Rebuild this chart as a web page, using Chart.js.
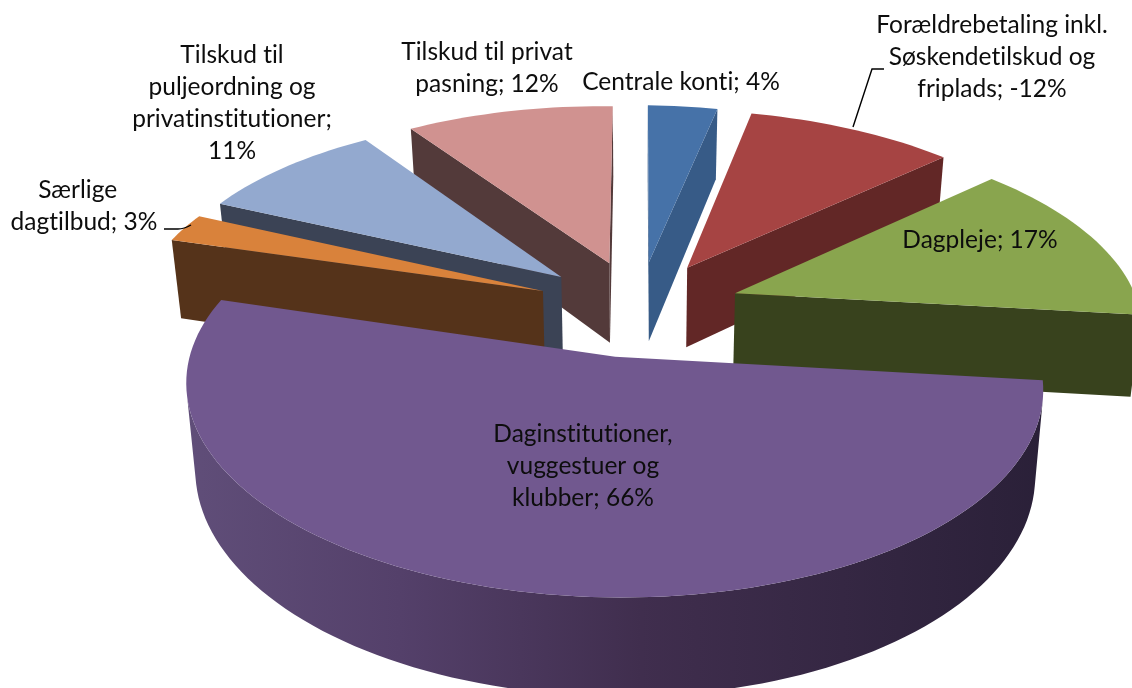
<!DOCTYPE html>
<html>
<head>
<meta charset="utf-8">
<title>Pie</title>
<style>
	html, body { margin: 0; padding: 0; background: #fff; overflow: hidden; }
	canvas { display: block; }
</style>
<script src="https://cdn.jsdelivr.net/npm/chart.js@4/dist/chart.umd.js"></script>
</head>
<body>
<canvas id="chart" width="1132" height="688"></canvas>
<script>

	// Values.
	const categories = [
		"Centrale konti",
		"Forældrebetaling inkl.\nSøskendetilskud og\nfriplads",
		"Dagpleje",
		"Daginstitutioner,\nvuggestuer og\nklubber",
		"Særlige  \ndagtilbud",
		"Tilskud til\npuljeordning og\nprivatinstitutioner",
		"Tilskud til privat\npasning"
	];
	const shares = [ 4, -12, 17, 66, 3, 11, 12 ];
	const faceColors = [ "#4672a8", "#a64443", "#89a54e", "#71588f", "#d9823b", "#93a9cf", "#d09290" ];
	const wallColors = [ "#375b87", "#622726", "#38421d", "#4a3a60", "#55331a", "#3b4355", "#533a3a" ];

	// Where each data label goes: centre x, first baseline y.
	const labelSpots = [ [ 681, 90 ], [ 992, 33 ], [ 980, 248 ], [ 583, 442 ], [ 84, 198 ], [ 232, 63 ], [ 487, 60 ] ];
	const labelColor = "#0d0d0d";
	const lineGap = 32;

	// Camera. Pie radius is 1, explosion in the same unit.
	const view = {
		cx: 639, cy: 308, a: 412, b: 196, p: 0.139,
		explodeX: 0.25, explodeY: 0.245,
		depth: 82, pinch: 0.98, tilt: 0.012, frontSlip: -0.012,
		backRim: [ 0.985, 0.965 ], frontRim: [ 0.995, 0.985 ]
	};

	// Back slices first, the big front slice last.
	const frontSlice = 3;
	const drawOrder = [ 6, 5, 0, 1, 2, 4, frontSlice ];

	/*
	 * Project a point of the pie plane to the page.
	 *
	 * @params Number $u
	 * @params Number $v
	 * @params Boolean $low
	 *
	 * @return Array
	 */
	function project( u, v, low )
	{
		const w = 1 + view.p * v;
		let x = view.cx + view.a * u / w;
		let y = view.cy - view.b * v / w + view.tilt * ( x - view.cx );
		if( low )
		{
			x = view.cx + ( x - view.cx ) * view.pinch;
			y += view.depth / w;
		}
		return([ x, y ]);
	}

	/*
	 * Fill a closed shape.
	 */
	function fillShape( ctx, points, color )
	{
		ctx.beginPath();
		points.forEach(( p, i ) => i ? ctx.lineTo( p[0], p[1] ) : ctx.moveTo( p[0], p[1] ));
		ctx.closePath();
		ctx.fillStyle = color;
		ctx.fill();
	}

	/*
	 * Wall between two plane points, null when it faces away.
	 */
	function wallQuad( p, q )
	{
		const quad = [ project( p[0], p[1] ), project( q[0], q[1] ), project( q[0], q[1], true ), project( p[0], p[1], true ) ];
		let area = 0;
		quad.forEach(( a, k ) =>
		{
			const b = quad[( k + 1 ) % 4];
			area += a[0] * b[1] - b[0] * a[1];
		});
		return( area < 0 ? quad : null );
	}

	/*
	 * Purple outer wall darkens to the right.
	 */
	function frontShade( ctx )
	{
		const g = ctx.createLinearGradient( 185, 0, 1045, 0 );
		g.addColorStop( 0, "#604e79" );
		g.addColorStop( 0.25, "#54406a" );
		g.addColorStop( 0.53, "#402e4e" );
		g.addColorStop( 1, "#2a2038" );
		return( g );
	}

	/*
	 * Paint one slice from the angles the library worked out.
	 *
	 * @params CanvasRenderingContext2D $ctx
	 * @params ArcElement $arc
	 * @params Number $index
	 */
	function paintSlice( ctx, arc, index )
	{
		// Library angles start at -PI/2 and run clockwise.
		const start = arc.startAngle + Math.PI / 2;
		const end = arc.endAngle + Math.PI / 2;
		const mid = ( start + end ) / 2;
		const front = index === frontSlice;
		const ou = view.explodeX * Math.sin( mid ) + ( front ? view.frontSlip : 0 );
		const ov = view.explodeY * Math.cos( mid );
		const apex = [ ou, ov ];
		const scale = front ? view.frontRim : view.backRim;

		// Rim of the slice as plane points, clockwise.
		const rim = [];
		const steps = Math.max( 8, Math.ceil(( end - start ) / 0.03 ));
		for( let i = 0; i <= steps; i++ )
		{
			const t = start + ( end - start ) * i / steps;
			rim.push([ ou + scale[0] * Math.sin( t ), ov + scale[1] * Math.cos( t ) ]);
		}

		// Outer wall in one piece, else the gradient shows seams.
		const visible = [];
		for( let i = 0; i < steps; i++ )
		{
			if( wallQuad( rim[i], rim[i + 1] ))
			{
				if( !visible.length ) visible.push( rim[i] );
				visible.push( rim[i + 1] );
			}
		}
		if( visible.length )
		{
			const upper = visible.map( p => project( p[0], p[1] ));
			const lower = visible.map( p => project( p[0], p[1], true )).reverse();
			fillShape( ctx, [ ...upper, ...lower ], front ? frontShade( ctx ) : wallColors[index] );
		}

		// The two cut faces.
		[ wallQuad( apex, rim[0] ), wallQuad( rim[steps], apex ) ].forEach( quad =>
		{
			if( quad ) fillShape( ctx, quad, wallColors[index] );
		});

		// Top face.
		fillShape( ctx, [ apex, ...rim ].map( p => project( p[0], p[1] )), faceColors[index] );
	}

	/*
	 * Pie controller that paints its arcs as a tilted, exploded cake.
	 */
	class Pie3dController extends Chart.PieController
	{
		static id = "pie3d";
		static defaults = Chart.PieController.defaults;
		static overrides = Chart.PieController.overrides;

		draw()
		{
			const arcs = this.getMeta().data;
			drawOrder.forEach( i => paintSlice( this.chart.ctx, arcs[i], i ));
		}
	}
	Chart.register( Pie3dController );

	/*
	 * Data labels and the two leader lines.
	 */
	const labelPlugin = {
		id: "sliceLabels",
		afterDatasetsDraw: function( chart )
		{
			const ctx = chart.ctx;
			ctx.save();

			// Leaders.
			ctx.strokeStyle = "#000";
			ctx.lineWidth = 1.4;
			ctx.beginPath();
			ctx.moveTo( 853, 127 );
			ctx.lineTo( 872, 69 );
			ctx.lineTo( 884, 69 );
			ctx.moveTo( 164, 229 );
			ctx.lineTo( 178, 229 );
			ctx.quadraticCurveTo( 184, 229, 191, 225 );
			ctx.stroke();

			// Labels. A hair of letter spacing keeps Lato from joining "ti".
			ctx.font = "24.5px Lato";
			ctx.letterSpacing = "0.01px";
			ctx.fillStyle = labelColor;
			ctx.textAlign = "center";
			categories.forEach(( name, i ) =>
			{
				const text = name + "; " + shares[i] + "%";
				const lines = i === 5 ? [ ...text.split( "\n" ).slice( 0, 2 ), "privatinstitutioner;", shares[i] + "%" ] : text.split( "\n" );
				lines.forEach(( line, k ) => ctx.fillText( line, labelSpots[i][0], labelSpots[i][1] + k * lineGap ));
			});
			ctx.restore();
		}
	};

	new Chart( document.getElementById( "chart" ), {
		type: "pie3d",
		data: {
			labels: categories,
			datasets: [{
				data: shares,
				backgroundColor: faceColors,
				borderWidth: 0
			}]
		},
		options: {
			responsive: false,
			animation: false,
			events: [],
			plugins: {
				legend: { display: false },
				title: { display: false },
				tooltip: { enabled: false }
			}
		},
		plugins: [ labelPlugin ]
	});

</script>
</body>
</html>
